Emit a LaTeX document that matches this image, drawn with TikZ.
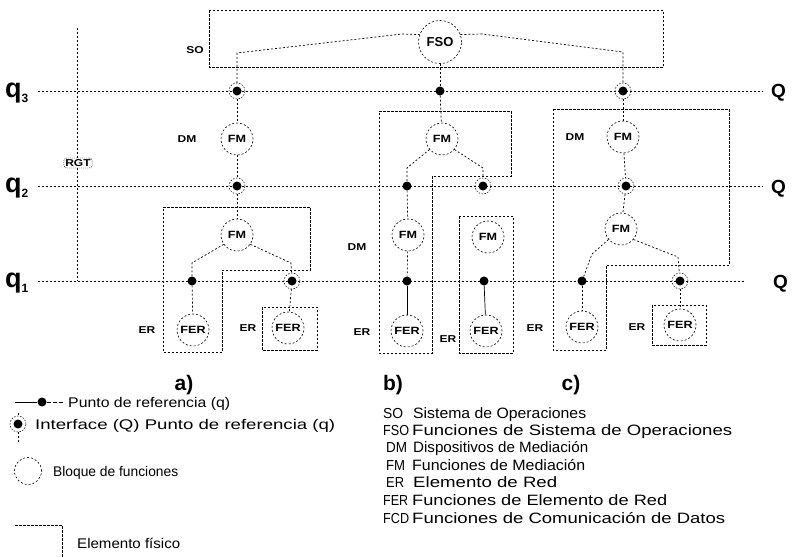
\documentclass[tikz,border=0pt]{standalone}
\usepackage{fontspec}
\usepackage{graphicx}
\setmainfont{Liberation Sans}
\newfontfamily\lblfont{Liberation Sans}[FakeStretch=1.2]
\newcommand{\fitw}[2]{\resizebox{#1pt}{\height}{#2}}
\tikzset{
  qline/.style={line width=0.7pt, dash pattern=on 2pt off 2pt},
  conn/.style={line width=0.7pt, dash pattern=on 2pt off 2pt},
  solidconn/.style={line width=0.7pt},
  pbox/.style={line width=0.8pt, dash pattern=on 2.5pt off 1.5pt},
  fblock/.style={circle, draw, line width=0.6pt, dash pattern=on 2pt off 2pt, inner sep=0pt, minimum size=32pt, fill=white, font=\lblfont\bfseries\fontsize{10.5}{10.5}\selectfont},
  refdot/.style={circle, fill=black, inner sep=0pt, minimum size=9pt},
  ifdot/.style={circle, draw, line width=0.5pt, dash pattern=on 1.5pt off 1.5pt, inner sep=0pt, minimum size=16pt, path picture={\fill[black] (path picture bounding box.center) circle (4.5pt);}},
  lbl/.style={font=\lblfont\bfseries\fontsize{10}{10}\selectfont, inner sep=1pt},
  qlbl/.style={font=\bfseries\fontsize{27}{27}\selectfont, inner sep=0pt, anchor=base west},
  Qlbl/.style={font=\bfseries\fontsize{19}{19}\selectfont, inner sep=0pt, anchor=base west},
  sub/.style={font=\bfseries\fontsize{21}{21}\selectfont, inner sep=0pt},
  legl/.style={anchor=base west, inner sep=0pt, font=\fontsize{14}{14}\selectfont},
  legr/.style={anchor=base west, inner sep=0pt, font=\fontsize{15}{15}\selectfont},
  abbr/.style={anchor=base west, inner sep=0pt, font=\fontsize{14.5}{14.5}\selectfont},
}
\begin{document}
\begin{tikzpicture}[x=1pt,y=-1pt]
\useasboundingbox (0,0) rectangle (793,557);
\fill[white] (0,0) rectangle (793,557);

% ---------- q lines ----------
\node[qlbl] (lq3) at (5,97) {q\raisebox{-5pt}{\fontsize{12}{12}\selectfont 3}};
\node[qlbl] (lq2) at (5,192) {q\raisebox{-5pt}{\fontsize{12}{12}\selectfont 2}};
\node[qlbl] (lq1) at (5,287) {q\raisebox{-5pt}{\fontsize{12}{12}\selectfont 1}};
\node[Qlbl] (Q3) at (771,97) {Q};
\node[Qlbl] (Q2) at (771,193) {Q};
\node[Qlbl] (Q1) at (773,288) {Q};
\coordinate (q3a) at (38,91);  \coordinate (q3b) at (763,91);
\coordinate (q2a) at (38,186); \coordinate (q2b) at (763,186);
\coordinate (q1a) at (38,281); \coordinate (q1b) at (745,281);
\draw[qline] (q3a) -- (q3b);
\draw[qline] (q2a) -- (q2b);
\draw[qline] (q1a) -- (q1b);

% ---------- RGT ----------
\coordinate (rgtTop) at (77,28);
\coordinate (rgtBot) at (77,281);
\draw[conn] (rgtTop) -- (rgtBot);
\node[lbl, draw, line width=0.4pt, dash pattern=on 1pt off 1pt, rounded corners=3pt, fill=white, inner sep=1.5pt, font=\lblfont\bfseries\fontsize{10}{10}\selectfont] (RGT) at (78,163) {RGT};

% ---------- physical boxes ----------
\draw[pbox] (209,10) rectangle (663,67);
\node[lbl] (lSO) at (195,50) {SO};
\draw[pbox] (163,207) -- (310,207) -- (310,270) -- (222,270) -- (222,352) -- (163,352) -- cycle;
\draw[pbox] (262,307) rectangle (317,350);
\draw[pbox] (379,111) -- (511,111) -- (511,176) -- (432,176) -- (432,353) -- (379,353) -- cycle;
\draw[pbox] (459,216) rectangle (513,353);
\draw[pbox] (553,109) -- (729,109) -- (729,265) -- (606,265) -- (606,350) -- (553,350) -- cycle;
\draw[pbox] (652,305) rectangle (706,345);

% ---------- FSO ----------
\node[fblock, minimum size=43pt, font=\bfseries\fontsize{13}{13}\selectfont] (FSO) at (440,42) {FSO};

% ---------- a) ----------
\node[ifdot] (dA3) at (237,91) {};
\node[fblock] (FMa1) at (237,139) {FM};
\node[ifdot] (dA2) at (237,186) {};
\node[fblock] (FMa2) at (237,235) {FM};
\node[refdot] (dA1L) at (192,281) {};
\node[ifdot] (dA1R) at (292,281) {};
\node[fblock] (FERa1) at (193,330) {FER};
\node[fblock] (FERa2) at (288,328) {FER};

% ---------- b) ----------
\node[refdot] (dB3) at (440,91) {};
\node[fblock] (FMb1) at (442,139) {FM};
\node[refdot] (dB2L) at (407,186) {};
\node[ifdot] (dB2R) at (483,186) {};
\node[fblock] (FMb2) at (408,235) {FM};
\node[fblock] (FMb3) at (488,237) {FM};
\node[refdot] (dB1L) at (407,281) {};
\node[refdot] (dB1R) at (484,281) {};
\node[fblock] (FERb1) at (407,331) {FER};
\node[fblock] (FERb2) at (486,331) {FER};

% ---------- c) ----------
\node[ifdot] (dC3) at (623,91) {};
\node[fblock] (FMc1) at (623,137) {FM};
\node[ifdot] (dC2) at (626,186) {};
\node[fblock] (FMc2) at (621,229) {FM};
\node[refdot] (dC1L) at (582,281) {};
\node[ifdot] (dC1R) at (680,281) {};
\node[fblock] (FERc1) at (582,327) {FER};
\node[fblock] (FERc2) at (680,325) {FER};

% ---------- bend points ----------
\coordinate (kS1) at (237,53);
\coordinate (kS2) at (402,34);
\coordinate (kS3) at (482,34);
\coordinate (kS4) at (623,52);
\coordinate (kA1) at (192,263);
\coordinate (kA2) at (291,263);
\coordinate (kB1) at (407,168);
\coordinate (kB2) at (483,168);
\coordinate (kC1) at (592,254);
\coordinate (kC2) at (678,257);

% ---------- connectors ----------
\draw[conn] (dA3) -- (kS1) -- (kS2) -- (FSO.160);
\draw[conn] (FSO.20) -- (kS3) -- (kS4) -- (dC3);
\draw[conn] (FSO) -- (dB3);

\draw[conn] (dA3) -- (FMa1);
\draw[conn] (FMa1) -- (dA2);
\draw[conn] (dA2) -- (FMa2);
\draw[conn] (FMa2.215) -- (kA1) -- (dA1L);
\draw[conn] (FMa2.325) -- (kA2) -- (dA1R);
\draw[conn] (dA1L) -- (FERa1);
\draw[conn] (dA1R) -- (FERa2);

\draw[conn] (dB3) -- (FMb1);
\draw[conn] (FMb1.220) -- (kB1) -- (dB2L);
\draw[conn] (FMb1.320) -- (kB2) -- (dB2R);
\draw[conn] (dB2L) -- (FMb2);
\draw[conn] (FMb2) -- (dB1L);
\draw[solidconn] (dB1L) -- (FERb1);
\draw[solidconn] (dB1R) -- (FERb2);

\draw[conn] (dC3) -- (FMc1);
\draw[conn] (FMc1) -- (dC2);
\draw[conn] (dC2) -- (FMc2);
\draw[conn] (FMc2.220) -- (kC1) -- (dC1L);
\draw[conn] (FMc2.320) -- (kC2) -- (dC1R);
\draw[conn] (dC1L) -- (FERc1);
\draw[conn] (dC1R) -- (FERc2);

% ---------- labels ----------
\node[lbl] (lDMa) at (187,139) {DM};
\node[lbl] (lDMb) at (357,247) {DM};
\node[lbl] (lDMc) at (575,137) {DM};
\node[lbl] (lERa1) at (147,330) {ER};
\node[lbl] (lERa2) at (248,328) {ER};
\node[lbl] (lERb1) at (362,332) {ER};
\node[lbl] (lERb2) at (448,339) {ER};
\node[lbl] (lERc1) at (535,328) {ER};
\node[lbl] (lERc2) at (637,327) {ER};

\node[sub] (subA) at (184,385) {a)};
\node[sub] (subB) at (393,385) {b)};
\node[sub] (subC) at (571,385) {c)};

% ---------- legend left ----------
\coordinate (lg1a) at (15,402);
\node[refdot] (lg1d) at (42,402) {};
\coordinate (lg1b) at (63,402);
\draw[line width=0.8pt] (lg1a) -- (lg1d);
\draw[line width=0.8pt, dash pattern=on 4pt off 2pt] (lg1d) -- (lg1b);
\node[legl] (lt1) at (68,407) {\fitw{162}{Punto de referencia (q)}};

\coordinate (lg2t) at (18,413);
\node[ifdot] (lg2d) at (18,424) {};
\coordinate (lg2b) at (18,442);
\draw[conn] (lg2t) -- (lg2d);
\draw[conn] (lg2d) -- (lg2b);
\node[legl] (lt2) at (35,429) {\fitw{300}{Interface (Q) Punto de referencia (q)}};

\node[fblock, minimum size=27pt] (lg3c) at (28,471) {};
\node[legl] (lt3) at (53,476) {\fitw{125}{Bloque de funciones}};

\coordinate (lg4a) at (15,525);
\coordinate (lg4b) at (62,525);
\coordinate (lg4c) at (62,557);
\draw[pbox] (lg4a) -- (lg4b) -- (lg4c);
\node[legl] (lt4) at (77,548) {\fitw{103}{Elemento físico}};

% ---------- legend right ----------
\node[abbr] (a1) at (383,418) {\fitw{20}{SO}};
\node[abbr] (a2) at (383,435) {\fitw{26}{FSO}};
\node[abbr] (a3) at (386,452) {\fitw{21}{DM}};
\node[abbr] (a4) at (386,470) {\fitw{19}{FM}};
\node[abbr] (a5) at (386,487) {\fitw{18}{ER}};
\node[abbr] (a6) at (383,505) {\fitw{25}{FER}};
\node[abbr] (a7) at (383,523) {\fitw{26}{FCD}};
\node[legr] (d1) at (413,418) {\fitw{173}{Sistema de Operaciones}};
\node[legr] (d2) at (412,435) {\fitw{320}{Funciones de Sistema de Operaciones}};
\node[legr] (d3) at (413,452) {\fitw{175}{Dispositivos de Mediación}};
\node[legr] (d4) at (412,470) {\fitw{173}{Funciones de Mediación}};
\node[legr] (d5) at (413,487) {\fitw{144}{Elemento de Red}};
\node[legr] (d6) at (412,505) {\fitw{255}{Funciones de Elemento de Red}};
\node[legr] (d7) at (412,523) {\fitw{313}{Funciones de Comunicación de Datos}};
\end{tikzpicture}
\end{document}
